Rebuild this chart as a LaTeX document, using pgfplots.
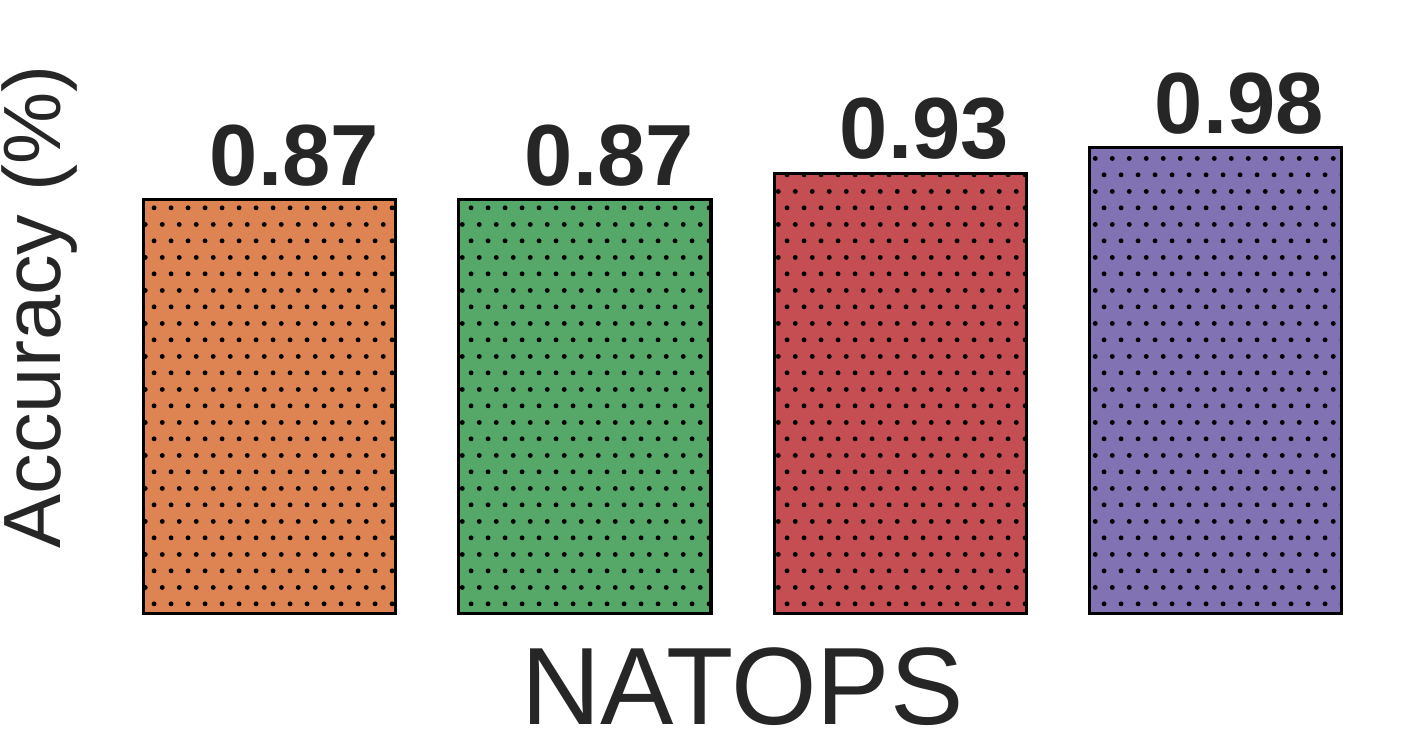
\documentclass[border=0pt]{standalone}
\usepackage{fontspec}
\setmainfont{Liberation Sans}
\usepackage{pgfplots}
\pgfplotsset{compat=1.18}
\usetikzlibrary{patterns.meta}
\definecolor{txt}{HTML}{262626}
\definecolor{c1}{HTML}{DD8452}
\definecolor{c2}{HTML}{55A868}
\definecolor{c3}{HTML}{C44E52}
\definecolor{c4}{HTML}{8172B3}

\tikzdeclarepattern{
  name=bardots,
  type=uncolored,
  bounding box={(0,0) and (4.1667pt,8.3333pt)},
  tile size={(4.1667pt,8.3333pt)},
  code={
    \fill (1.04pt,2.08pt) circle (0.62pt);
    \fill (3.125pt,6.25pt) circle (0.62pt);
  }
}

\begin{document}
\begin{tikzpicture}
  % fixed page: 1401 x 745 px at 0.25pt per px
  \useasboundingbox (-28.125pt,-32.75pt) rectangle (322.125pt,153.5pt);
  \begin{axis}[
      scale only axis,
      width=315pt, height=153.5pt,
      xmin=-0.5, xmax=3.5,
      ymin=0, ymax=1.29,
      ybar, bar width=0.8, bar shift=0pt,
      axis line style={draw=none},
      xtick=\empty, ytick=\empty,
      clip=false,
      xlabel={NATOPS},
      ylabel={Accuracy (\%)},
      xlabel style={at={(axis description cs:0.5,-0.1792)}, anchor=base,
        font=\fontsize{27.5}{30}\selectfont, text=txt},
      ylabel style={at={(axis description cs:-0.0409,0.5)}, anchor=base,
        font=\fontsize{20.3}{24}\selectfont, text=txt},
      nodes near coords,
      every node near coord/.append style={anchor=base, xshift=6.1pt, yshift=3.6pt,
        font=\fontsize{21.7}{24}\selectfont\bfseries, text=txt,
        /pgf/number format/assume math mode=true,
        /pgf/number format/fixed, /pgf/number format/fixed zerofill,
        /pgf/number format/precision=2},
      every axis plot/.append style={draw=black, line width=0.75pt},
    ]
    \addplot[fill=c1, postaction={pattern=bardots, pattern color=black}] coordinates {(0,0.87)};
    \addplot[fill=c2, postaction={pattern=bardots, pattern color=black}] coordinates {(1,0.87)};
    \addplot[fill=c3, postaction={pattern=bardots, pattern color=black}] coordinates {(2,0.926)};
    \addplot[fill=c4, postaction={pattern=bardots, pattern color=black}] coordinates {(3,0.98)};
  \end{axis}
\end{tikzpicture}
\end{document}
